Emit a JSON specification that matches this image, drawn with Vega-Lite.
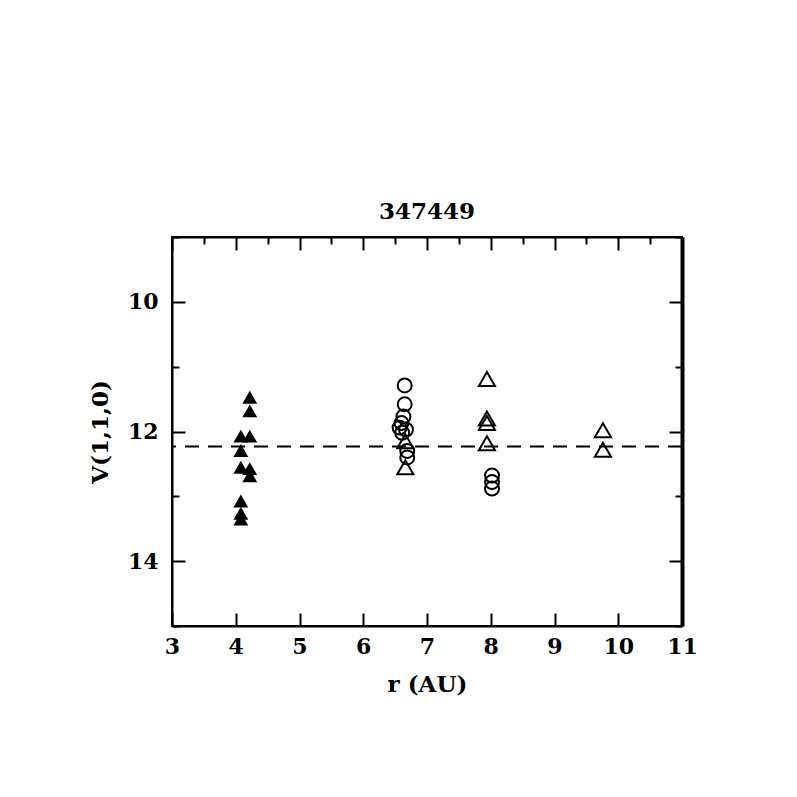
{
  "$schema": "https://vega.github.io/schema/vega-lite/v6.json",
  "width": 510,
  "height": 389,
  "autosize": {"type": "none"},
  "padding": {"left": 172, "top": 237, "right": 115, "bottom": 171},
  "background": "white",
  "title": {"text": "347449", "font": "DejaVu Serif", "fontSize": 23, "fontWeight": "bold", "color": "black", "offset": 2},
  "config": {
    "view": {"stroke": "black", "strokeWidth": 2},
    "axis": {"labelFont": "DejaVu Serif", "labelFontSize": 22, "labelFontWeight": "bold", "labelColor": "black", "labelOverlap": false, "labelFlush": false, "titleFont": "DejaVu Serif", "titleFontSize": 23, "titleFontWeight": "bold", "titleColor": "black", "grid": false, "domainColor": "black", "domainWidth": 2, "tickColor": "black", "tickWidth": 2}
  },
  "datasets": {
    "pts": [
      {"r": 4.22, "V": 11.48, "type": "filled"},
      {"r": 4.22, "V": 11.69, "type": "filled"},
      {"r": 4.08, "V": 12.08, "type": "filled"},
      {"r": 4.22, "V": 12.08, "type": "filled"},
      {"r": 4.08, "V": 12.3, "type": "filled"},
      {"r": 4.08, "V": 12.56, "type": "filled"},
      {"r": 4.22, "V": 12.58, "type": "filled"},
      {"r": 4.22, "V": 12.69, "type": "filled"},
      {"r": 4.08, "V": 13.08, "type": "filled"},
      {"r": 4.08, "V": 13.27, "type": "filled"},
      {"r": 4.08, "V": 13.36, "type": "filled"},
      {"r": 6.65, "V": 11.29, "type": "circle"},
      {"r": 6.65, "V": 11.58, "type": "circle"},
      {"r": 6.63, "V": 11.77, "type": "circle"},
      {"r": 6.6, "V": 11.87, "type": "circle"},
      {"r": 6.57, "V": 11.94, "type": "circle"},
      {"r": 6.67, "V": 11.97, "type": "circle"},
      {"r": 6.61, "V": 12.02, "type": "circle"},
      {"r": 6.69, "V": 12.3, "type": "circle"},
      {"r": 6.69, "V": 12.4, "type": "circle"},
      {"r": 8.02, "V": 12.68, "type": "circle"},
      {"r": 8.02, "V": 12.78, "type": "circle"},
      {"r": 8.02, "V": 12.88, "type": "circle"},
      {"r": 6.66, "V": 12.15, "type": "open"},
      {"r": 6.66, "V": 12.55, "type": "open"},
      {"r": 7.94, "V": 11.19, "type": "open"},
      {"r": 7.94, "V": 11.8, "type": "open"},
      {"r": 7.94, "V": 11.87, "type": "open"},
      {"r": 7.94, "V": 12.18, "type": "open"},
      {"r": 9.76, "V": 11.98, "type": "open"},
      {"r": 9.76, "V": 12.28, "type": "open"}
    ],
    "ref": [{"V": 12.23}]
  },
  "layer": [
    {
      "data": {"name": "ref"},
      "mark": {"type": "rule", "color": "black", "strokeWidth": 2, "strokeDash": [14, 9]},
      "encoding": {
        "y": {"field": "V", "type": "quantitative", "scale": {"domain": [9, 15], "reverse": true, "nice": false, "zero": false},
          "axis": {"orient": "left", "title": "V(1,1,0)", "values": [9,10,11,12,13,14,15], "format": "d", "labelExpr": "datum.value % 2 === 0 ? datum.label : ''", "tickSize": {"condition": {"test": "datum.value % 2 === 0", "value": -13}, "value": -7}, "labelPadding": 27, "titlePadding": 15}}
      }
    },
    {
      "data": {"name": "pts"},
      "mark": {"type": "point", "filled": true, "stroke": "black", "strokeWidth": 2, "opacity": 1},
      "encoding": {
        "x": {"field": "r", "type": "quantitative", "scale": {"domain": [3, 11], "nice": false, "zero": false},
          "axis": {"orient": "bottom", "title": "r (AU)", "values": [3,3.5,4,4.5,5,5.5,6,6.5,7,7.5,8,8.5,9,9.5,10,10.5,11], "format": "d", "labelExpr": "datum.value % 1 === 0 ? datum.label : ''", "tickSize": {"condition": {"test": "datum.value % 1 === 0", "value": -13}, "value": -7}, "labelPadding": 23, "titlePadding": 16}},
        "y": {"field": "V", "type": "quantitative", "axis": null},
        "shape": {"field": "type", "type": "nominal", "scale": {"domain": ["filled", "circle", "open"], "range": ["triangle-up", "circle", "triangle-up"]}, "legend": null},
        "fill": {"field": "type", "type": "nominal", "scale": {"domain": ["filled", "circle", "open"], "range": ["black", "transparent", "transparent"]}, "legend": null},
        "size": {"field": "type", "type": "nominal", "scale": {"domain": ["filled", "circle", "open"], "range": [130, 260, 170]}, "legend": null}
      }
    },
    {
      "data": {"name": "ref"},
      "mark": {"type": "rule", "opacity": 0},
      "encoding": {
        "x": {"datum": 3, "type": "quantitative", "axis": {"orient": "top", "title": null, "labels": false, "values": [3,3.5,4,4.5,5,5.5,6,6.5,7,7.5,8,8.5,9,9.5,10,10.5,11], "tickSize": {"condition": {"test": "datum.value % 1 === 0", "value": -13}, "value": -7}}},
        "y": {"field": "V", "type": "quantitative", "axis": {"orient": "right", "title": null, "labels": false, "values": [9,10,11,12,13,14,15], "domainWidth": 4, "tickSize": {"condition": {"test": "datum.value % 2 === 0", "value": -13}, "value": -7}}}
      }
    }
  ],
  "resolve": {"axis": {"x": "independent", "y": "independent"}}
}
